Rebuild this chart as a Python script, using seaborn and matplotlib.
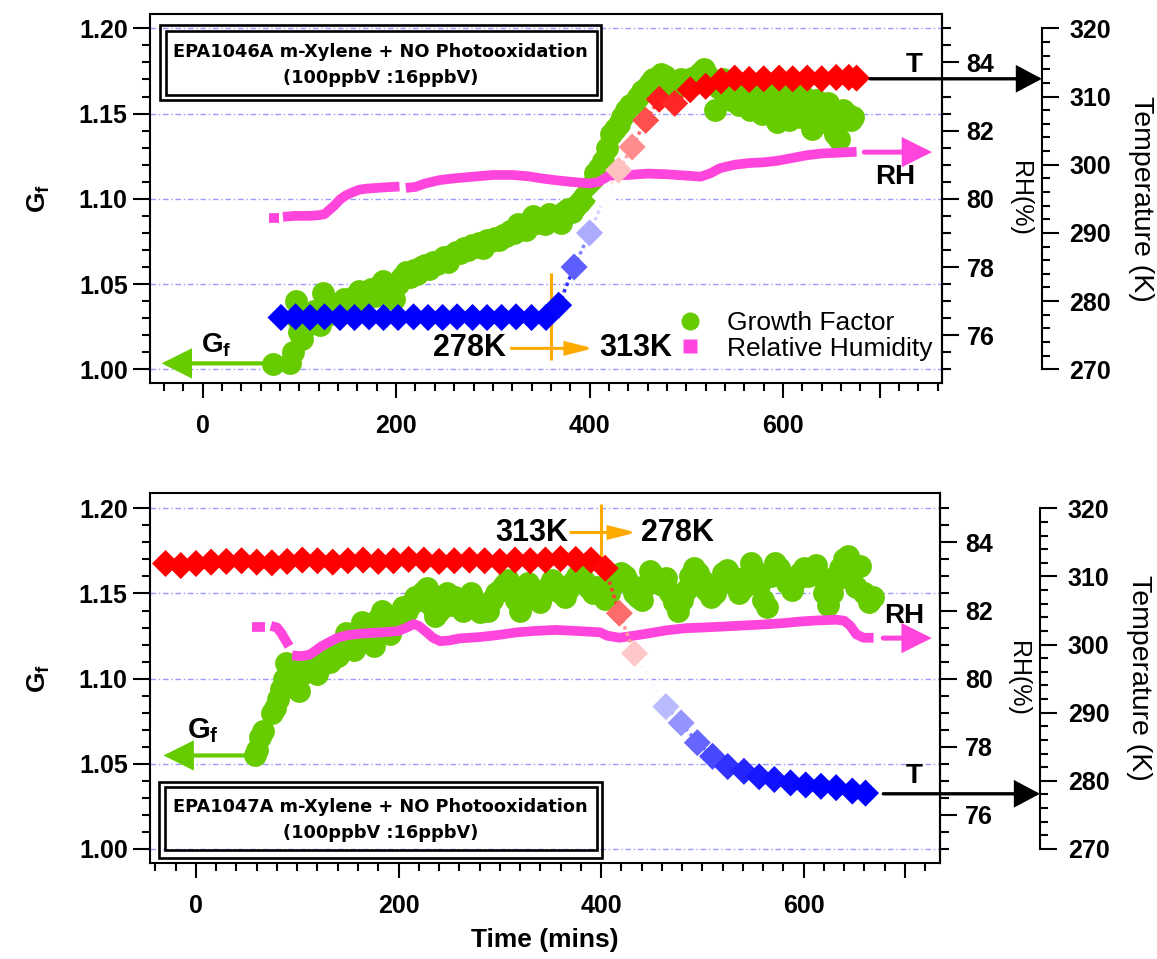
import numpy as np
import pandas as pd
import matplotlib
matplotlib.use("Agg")
import matplotlib.pyplot as plt
import seaborn as sns
from matplotlib.colors import LinearSegmentedColormap, Normalize
from matplotlib.collections import LineCollection
from matplotlib.patches import Rectangle
from matplotlib.lines import Line2D
from matplotlib.ticker import MultipleLocator, FixedLocator, FuncFormatter, FormatStrFormatter

sns.set_theme(style="ticks")
plt.rcParams["font.family"] = ["Liberation Sans", "DejaVu Sans"]
plt.rcParams["font.weight"] = "bold"
plt.rcParams["axes.labelweight"] = "bold"
plt.rcParams["mathtext.fontset"] = "custom"
plt.rcParams["mathtext.rm"] = "Liberation Sans:bold"
plt.rcParams["mathtext.bf"] = "Liberation Sans:bold"
plt.rcParams["mathtext.it"] = "Liberation Sans:bold"
plt.rcParams["axes.linewidth"] = 1.5
plt.rcParams["axes.edgecolor"] = "black"
for key in ("text.color", "axes.labelcolor", "xtick.color", "ytick.color"):
    plt.rcParams[key] = "black"

GREEN = "#66cc00"
PINK = "#ff45dc"
ORANGE = "#ffaa00"
GRID = "#9a9aff"

# ---------------- EPA1046A (heated 278 K -> 313 K) ----------------
gf1_time = [73, 90, 93, 96, 98, 100, 103, 106, 109, 112,
            115, 118, 121, 124, 127, 130, 134, 138, 142, 146,
            150, 154, 158, 162, 166, 170, 174, 178, 182, 186,
            190, 194, 198, 202, 206, 210, 214, 218, 222, 226,
            230, 234, 238, 242, 246, 250, 254, 258, 262, 266,
            270, 274, 278, 282, 286, 290, 294, 298, 302, 306,
            310, 314, 318, 322, 326, 330, 334, 338, 342, 346,
            350, 354, 358, 362, 366, 370, 374, 378, 382, 386,
            390, 394, 398, 402, 406, 410, 414, 418, 422, 426,
            430, 434, 438, 442, 446, 450, 454, 458, 462, 466,
            470, 474, 478, 482, 486, 490, 494, 498, 502, 506,
            510, 514, 518, 522, 526, 530, 534, 538, 542, 546,
            550, 554, 558, 562, 566, 570, 574, 578, 582, 586,
            590, 594, 598, 602, 606, 610, 614, 618, 622, 626,
            630, 634, 638, 642, 646, 650, 654, 658, 662, 666,
            670, 672]
gf1_val = [1.003, 1.004, 1.010, 1.040, 1.030, 1.022, 1.018, 1.025, 1.031, 1.028,
           1.034, 1.030, 1.026, 1.045, 1.035, 1.032, 1.038, 1.036, 1.033, 1.041,
           1.039, 1.036, 1.043, 1.046, 1.041, 1.044, 1.047, 1.043, 1.049, 1.052,
           1.048, 1.045, 1.041, 1.050, 1.054, 1.057, 1.054, 1.058, 1.056, 1.060,
           1.061, 1.059, 1.063, 1.062, 1.064, 1.066, 1.063, 1.067, 1.069, 1.068,
           1.071, 1.070, 1.073, 1.072, 1.074, 1.071, 1.076, 1.075, 1.077, 1.076,
           1.079, 1.078, 1.081, 1.080, 1.085, 1.083, 1.082, 1.087, 1.090, 1.086,
           1.088, 1.085, 1.091, 1.088, 1.090, 1.086, 1.092, 1.094, 1.092, 1.096,
           1.098, 1.101, 1.104, 1.108, 1.115, 1.118, 1.122, 1.130, 1.138, 1.141,
           1.144, 1.148, 1.152, 1.155, 1.156, 1.160, 1.163, 1.165, 1.168, 1.170,
           1.171, 1.173, 1.172, 1.169, 1.166, 1.168, 1.170, 1.167, 1.168, 1.171,
           1.170, 1.174, 1.176, 1.172, 1.168, 1.152, 1.165, 1.170, 1.162, 1.158,
           1.168, 1.155, 1.163, 1.160, 1.152, 1.166, 1.160, 1.150, 1.158, 1.162,
           1.155, 1.145, 1.160, 1.152, 1.146, 1.162, 1.155, 1.148, 1.160, 1.152,
           1.141, 1.158, 1.150, 1.145, 1.156, 1.148, 1.138, 1.135, 1.152, 1.150,
           1.146, 1.148]

rh1_time = [69, 79,
            83, 95, 110, 120, 126, 130, 136, 142, 148, 154, 162, 170, 180, 190, 203.5,
            210, 220, 230, 245, 260, 280, 300, 320, 337, 350, 364, 380, 400, 410, 420,
            440, 460, 480, 500, 515, 525, 535, 550, 565, 580, 595, 610, 625, 640, 655, 676]
rh1_val = [79.45, 79.45,
           79.47, 79.50, 79.50, 79.52, 79.55, 79.65, 79.80, 79.98, 80.10, 80.18, 80.27,
           80.30, 80.32, 80.34, 80.36,
           80.32, 80.35, 80.45, 80.55, 80.60, 80.65, 80.70, 80.70, 80.66, 80.60, 80.55,
           80.50, 80.45, 80.50, 80.68, 80.70, 80.74, 80.72, 80.68, 80.65, 80.75, 80.90,
           81.00, 81.05, 81.07, 81.12, 81.20, 81.28, 81.33, 81.35, 81.38]
rh1_seg = [0] * 2 + [1] * 15 + [2] * 31

temp1_time = [81, 96, 111, 126, 142, 157, 172, 187, 202, 218,
              233, 248, 263, 279, 294, 309, 324, 340, 355, 368,
              384, 400, 416, 430, 444, 458, 472, 488, 504, 520,
              536, 550, 565, 580, 596, 610, 625, 640, 655, 668, 676]
temp1_val = [277.6, 277.7, 277.6, 277.7, 277.6, 277.6, 277.7, 277.6, 277.6, 277.7,
             277.6, 277.6, 277.7, 277.6, 277.6, 277.6, 277.7, 277.6, 277.6, 279.4,
             285.0, 290.0, 295.3, 299.2, 302.6, 306.5, 309.6, 309.0, 311.0, 311.5,
             312.3, 312.7, 312.5, 312.6, 312.7, 312.6, 312.7, 312.6, 312.8, 312.8, 312.7]

# ---------------- EPA1047A (cooled 313 K -> 278 K) ----------------
gf2_time = [58, 60, 63, 66, 75, 78, 81, 84, 87, 89,
            92, 95, 98, 102, 105, 108, 112, 116, 120, 124,
            128, 132, 136, 140, 144, 148, 152, 156, 160, 164,
            168, 172, 176, 180, 184, 188, 192, 196, 200, 204,
            208, 212, 216, 220, 224, 228, 232, 236, 240, 244,
            248, 252, 256, 260, 264, 268, 272, 276, 280, 284,
            288, 292, 296, 300, 304, 308, 312, 316, 320, 324,
            328, 332, 336, 340, 344, 348, 352, 356, 360, 364,
            368, 372, 376, 380, 384, 388, 392, 396, 400, 404,
            408, 412, 416, 420, 424, 428, 432, 436, 440, 444,
            448, 452, 456, 460, 464, 468, 472, 476, 480, 484,
            488, 492, 496, 500, 504, 508, 512, 516, 520, 524,
            528, 532, 536, 540, 544, 548, 552, 556, 560, 564,
            568, 572, 576, 580, 584, 588, 592, 596, 600, 604,
            608, 612, 616, 620, 624, 628, 632, 636, 640, 644,
            648, 652, 656, 660, 664, 668]
gf2_val = [1.055, 1.058, 1.066, 1.069, 1.080, 1.083, 1.088, 1.094, 1.100, 1.109,
           1.104, 1.098, 1.095, 1.093, 1.103, 1.107, 1.110, 1.106, 1.103, 1.108,
           1.112, 1.110, 1.115, 1.113, 1.118, 1.127, 1.122, 1.117, 1.125, 1.133,
           1.128, 1.122, 1.119, 1.135, 1.140, 1.132, 1.126, 1.136, 1.138, 1.142,
           1.140, 1.144, 1.148, 1.146, 1.151, 1.153, 1.143, 1.137, 1.140, 1.146,
           1.150, 1.143, 1.148, 1.144, 1.140, 1.147, 1.150, 1.145, 1.139, 1.143,
           1.140, 1.146, 1.150, 1.152, 1.155, 1.158, 1.150, 1.146, 1.140, 1.150,
           1.156, 1.152, 1.148, 1.145, 1.150, 1.154, 1.158, 1.155, 1.150, 1.148,
           1.153, 1.157, 1.160, 1.161, 1.157, 1.153, 1.150, 1.154, 1.152, 1.147,
           1.150, 1.155, 1.158, 1.162, 1.160, 1.156, 1.150, 1.148, 1.146, 1.155,
           1.163, 1.160, 1.158, 1.155, 1.159, 1.150, 1.145, 1.140, 1.146, 1.152,
           1.160, 1.165, 1.162, 1.158, 1.152, 1.148, 1.150, 1.155, 1.162, 1.164,
           1.160, 1.156, 1.150, 1.153, 1.160, 1.168, 1.163, 1.155, 1.146, 1.142,
           1.160, 1.168, 1.165, 1.160, 1.156, 1.152, 1.158, 1.162, 1.165, 1.160,
           1.163, 1.167, 1.160, 1.150, 1.143, 1.150, 1.158, 1.165, 1.170, 1.172,
           1.162, 1.154, 1.166, 1.150, 1.145, 1.148]

rh2_time = [55, 68,
            74, 80, 84, 88, 92,
            95, 104, 112, 118, 124, 132, 140, 150, 166, 185, 200, 208, 215, 220,
            227, 234, 241, 250, 260, 280, 298, 317, 335, 355, 375, 399, 406, 418,
            430, 445, 465, 483, 500, 521, 540, 560, 580, 598, 615, 632, 640, 646,
            652, 659, 669]
rh2_val = [81.53, 81.53,
           81.55, 81.50, 81.35, 81.15, 80.95,
           80.68, 80.66, 80.70, 80.82, 80.95, 81.08, 81.20, 81.28, 81.33, 81.36, 81.40,
           81.50, 81.60, 81.55, 81.38, 81.20, 81.10, 81.12, 81.18, 81.22, 81.28, 81.36,
           81.40, 81.43, 81.40, 81.36, 81.26, 81.20, 81.25, 81.32, 81.42, 81.48, 81.50,
           81.53, 81.56, 81.59, 81.63, 81.68, 81.71, 81.73, 81.70, 81.55, 81.30, 81.20,
           81.20]
rh2_seg = [0] * 2 + [1] * 5 + [2] * 45

temp2_time = [-30, -15, 0, 15, 30, 45, 60, 75, 90, 105,
              120, 135, 150, 165, 180, 195, 210, 225, 240, 255,
              270, 285, 300, 315, 330, 345, 360, 375, 390, 404,
              418, 433, 464, 479, 495, 510, 525, 541, 556, 571,
              587, 602, 617, 632, 648, 661]
temp2_val = [311.9, 311.6, 311.9, 312.1, 312.2, 312.3, 312.1, 312.0, 312.2, 312.4,
             312.3, 312.1, 312.3, 312.4, 312.2, 312.3, 312.5, 312.4, 312.2, 312.3,
             312.4, 312.3, 312.2, 312.4, 312.3, 312.4, 312.6, 312.5, 312.4, 311.2,
             304.6, 298.7, 290.9, 288.5, 285.6, 283.6, 282.1, 281.4, 280.6, 280.2,
             279.7, 279.4, 279.2, 279.0, 278.5, 278.2]

TITLES = [("EPA1046A m-Xylene + NO Photooxidation", "(100ppbV :16ppbV)"),
          ("EPA1047A m-Xylene + NO Photooxidation", "(100ppbV :16ppbV)")]

temp_cmap = LinearSegmentedColormap.from_list("temp_ramp", ["#0000ff", "#ffffff", "#ff0000"])
temp_norm = Normalize(279.0, 311.5)

TICK_FS = 18


def arrow(axis, start, end, color, lw, hl, hw, xycoords="data"):
    axis.annotate("", xy=end, xytext=start, xycoords=xycoords, textcoords="data",
                  arrowprops=dict(arrowstyle=f"-|>,head_length={hl},head_width={hw}",
                                  color=color, lw=lw, shrinkA=0, shrinkB=0,
                                  mutation_scale=10, joinstyle="miter"),
                  annotation_clip=False, zorder=6)


def build_panel(ax, gf_lim, x_lim, gf_t, gf_v, rh_t, rh_v, rh_s, tk_t, tk_v, title,
                box, tk_spine=1.1265):
    rh_lim = tuple(75 + (g - 1) * 50 for g in gf_lim)
    tk_lim = tuple(270 + (g - 1) * 250 for g in gf_lim)

    ax_rh = ax.twinx()
    ax_tk = ax.twinx()
    ax.set_xlim(*x_lim)
    ax.set_ylim(*gf_lim)
    ax_rh.set_ylim(*rh_lim)
    ax_tk.set_ylim(*tk_lim)

    # growth factor
    sns.scatterplot(x=gf_t, y=gf_v, color=GREEN, s=270, linewidth=0, ax=ax, zorder=3)

    # relative humidity (continuous bands with data gaps)
    rh_df = pd.DataFrame({"t": rh_t, "rh": rh_v, "seg": rh_s})
    sns.lineplot(data=rh_df, x="t", y="rh", units="seg", estimator=None, sort=False,
                 color=PINK, lw=7, ax=ax_rh, zorder=3)
    for ln in ax_rh.lines:
        ln.set_solid_capstyle("butt")

    # chamber temperature, coloured by value, joined by dotted trace
    tk_df = pd.DataFrame({"t": tk_t, "T": tk_v})
    pts = np.column_stack([tk_df["t"], tk_df["T"]])
    segs = np.stack([pts[:-1], pts[1:]], axis=1)
    mids = 0.5 * (tk_df["T"].values[:-1] + tk_df["T"].values[1:])
    lc = LineCollection(segs, colors=temp_cmap(temp_norm(mids)), linewidths=2.5,
                        linestyles=(0, (1, 1)), zorder=2)
    ax_tk.add_collection(lc)
    sns.scatterplot(data=tk_df, x="t", y="T", hue="T", palette=temp_cmap, hue_norm=temp_norm,
                    marker="D", s=190, linewidth=0, legend=False, ax=ax_tk, zorder=4)

    # axes cosmetics
    for a in (ax, ax_rh, ax_tk):
        a.set_xlabel("")
        a.set_ylabel("")
    ax.grid(axis="y", color=GRID, linestyle=(0, (4, 2, 1, 2)), lw=1.0)
    ax.grid(axis="x", visible=False)

    ax.yaxis.set_major_locator(MultipleLocator(0.05))
    ax.yaxis.set_minor_locator(MultipleLocator(0.01))
    ax.yaxis.set_major_formatter(FormatStrFormatter("%.2f"))
    ax.xaxis.set_major_locator(FixedLocator([0, 200, 400, 600, 700]))
    ax.xaxis.set_minor_locator(MultipleLocator(20))
    ax.xaxis.set_major_formatter(FuncFormatter(lambda v, p: "" if abs(v - 700) < 1 else f"{v:.0f}"))
    ax.tick_params(axis="y", which="major", direction="out", length=12, width=1.5,
                   labelsize=TICK_FS, pad=4, left=True, right=False)
    ax.tick_params(axis="y", which="minor", direction="out", length=6, width=1.5, left=True)
    ax.tick_params(axis="x", which="major", direction="out", length=11, width=1.5,
                   labelsize=TICK_FS, pad=11, bottom=True)
    ax.tick_params(axis="x", which="minor", direction="out", length=6, width=1.5, bottom=True)

    ax_rh.yaxis.set_major_locator(FixedLocator([76, 78, 80, 82, 84]))
    ax_rh.yaxis.set_minor_locator(FixedLocator(np.arange(75, 85.01, 0.5)))
    ax_rh.tick_params(axis="y", which="major", direction="out", length=12, width=1.5,
                      labelsize=TICK_FS, pad=6, right=True)
    ax_rh.tick_params(axis="y", which="minor", direction="out", length=6.5, width=1.5, right=True)
    for s in ("left", "top", "bottom"):
        ax_rh.spines[s].set_visible(False)

    for s in ("left", "top", "bottom"):
        ax_tk.spines[s].set_visible(False)
    ax_tk.spines["right"].set_position(("axes", tk_spine))
    ax_tk.spines["right"].set_bounds(270, 320)
    ax_tk.yaxis.set_major_locator(FixedLocator(np.arange(270, 321, 10)))
    ax_tk.yaxis.set_minor_locator(FixedLocator(np.arange(270, 321, 2)))
    ax_tk.tick_params(axis="y", which="major", direction="out", length=12, width=1.5,
                      labelsize=TICK_FS, pad=8, right=True)
    ax_tk.tick_params(axis="y", which="minor", direction="out", length=6, width=1.5, right=True)

    ax.set_ylabel(r"$\mathbf{G_f}$", fontsize=19)
    ax.yaxis.set_label_coords(-0.14, 0.5)
    ax_rh.set_ylabel("RH(%)", fontsize=18, fontweight="normal", rotation=-90)
    ax_rh.yaxis.set_label_coords(1.099, 0.5)
    ax_tk.set_ylabel("Temperature (K)", fontsize=20.5, fontweight="normal", rotation=-90)
    ax_tk.yaxis.set_label_coords(1.252, 0.5)
    for lab in (ax.yaxis.label, ax_rh.yaxis.label, ax_tk.yaxis.label):
        lab.set_va("center")
        lab.set_ha("center")

    # double-framed experiment caption
    (ox0, oy0, ox1, oy1), (ix0, iy0, ix1, iy1), ty1, ty2 = box
    for (x0, y0, x1, y1) in ((ox0, oy0, ox1, oy1), (ix0, iy0, ix1, iy1)):
        ax.add_patch(Rectangle((x0, y0), x1 - x0, y1 - y0, transform=ax.transAxes,
                               fill=False, lw=1.9, edgecolor="black", zorder=7, clip_on=False))
    cx = 0.5 * (ox0 + ox1)
    ax.text(cx, ty1, title[0], transform=ax.transAxes, ha="center", va="center",
            fontsize=12.8, family="DejaVu Sans", fontweight="bold", zorder=8)
    ax.text(cx, ty2, title[1], transform=ax.transAxes, ha="center", va="center",
            fontsize=12.8, family="DejaVu Sans", fontweight="bold", zorder=8)
    return ax_rh, ax_tk


fig = plt.figure(figsize=(11.57, 9.59), dpi=100)
ax1 = fig.add_axes([0.1296, 0.6003, 0.6843, 0.3851])
ax2 = fig.add_axes([0.1296, 0.0998, 0.6828, 0.3858])

box1 = ((0.013, 0.7658, 0.5703, 0.9694), (0.0202, 0.782, 0.5646, 0.954), 0.898, 0.826)
box2 = ((0.0114, 0.0135, 0.5722, 0.2205), (0.0196, 0.036, 0.5665, 0.207), 0.1514, 0.0811)

ax1_rh, ax1_tk = build_panel(ax1, (0.9918, 1.2084), (-54.5, 764), gf1_time, gf1_val,
                             rh1_time, rh1_val, rh1_seg, temp1_time, temp1_val, TITLES[0], box1)
ax2_rh, ax2_tk = build_panel(ax2, (0.9916, 1.2088), (-45.4, 734.5), gf2_time, gf2_val,
                             rh2_time, rh2_val, rh2_seg, temp2_time, temp2_val, TITLES[1], box2)

LABEL_FS = 22

# ---- annotations: upper experiment ----
ax1_tk.text(13.7, 270 + 0.0143 * 250, r"$\mathbf{G_f}$", fontsize=20, ha="center", va="center")
arrow(ax1, (62.3, 1.0035), (-42.4, 1.0035), GREEN, 3.0, 1.7, 0.85)
ax1.text(314, 1.0123, "278K", fontsize=LABEL_FS, ha="right", va="center", zorder=6)
ax1.text(410, 1.0123, "313K", fontsize=LABEL_FS, ha="left", va="center", zorder=6)
arrow(ax1, (319, 1.0123), (404, 1.0123), ORANGE, 2.2, 1.6, 0.4)
ax1.vlines(360, 1.0055, 1.0563, color=ORANGE, lw=2.2, zorder=6)
ax1.text(716, 1.1129, "RH", fontsize=20, ha="center", va="center")
arrow(ax1_rh, (684, 81.37), (754, 81.37), PINK, 3.6, 1.6, 0.8)
ax1.text(736, 1.1785, "T", fontsize=20, ha="center", va="center")
arrow(ax1_tk, (690, 312.6), (1.1265, 312.6), "black", 2.4, 1.5, 0.8,
      xycoords=("axes fraction", "data"))

handles = [Line2D([], [], ls="none", marker="o", ms=13, color=GREEN, mec="none"),
           Line2D([], [], ls="none", marker="s", ms=10, color=PINK, mec="none")]
leg = ax1_tk.legend(handles, ["Growth Factor", "Relative Humidity"], loc="center left",
                    bbox_to_anchor=(0.6657, 0.128), frameon=False, borderpad=0,
                    borderaxespad=0, handlelength=1.0, handletextpad=0.9, labelspacing=0.05,
                    prop={"size": 19, "weight": "normal"})

# ---- annotations: lower experiment ----
ax2.text(6.4, 1.0696, r"$\mathbf{G_f}$", fontsize=21, ha="center", va="center")
arrow(ax2, (49, 1.0549), (-32, 1.0549), GREEN, 3.0, 1.7, 0.85)
ax2.text(368, 1.1853, "313K", fontsize=LABEL_FS, ha="right", va="center", zorder=6)
ax2.text(439, 1.1853, "278K", fontsize=LABEL_FS, ha="left", va="center", zorder=6)
arrow(ax2, (370, 1.1858), (435, 1.1858), ORANGE, 2.2, 1.6, 0.4)
ax2.vlines(400, 1.1668, 1.2025, color=ORANGE, lw=2.2, zorder=6)
ax2.text(699.6, 1.1365, "RH", fontsize=20, ha="center", va="center")
arrow(ax2_rh, (678.5, 81.19), (726.4, 81.19), PINK, 3.6, 1.6, 0.8)
ax2.text(709, 1.0426, "T", fontsize=20, ha="center", va="center")
arrow(ax2_tk, (678.5, 278.1), (1.1265, 278.1), "black", 2.4, 1.5, 0.8,
      xycoords=("axes fraction", "data"))

ax2.set_xlabel("Time (mins)", fontsize=19, fontweight="bold")
ax2.xaxis.set_label_coords(0.5, -0.207)
ax2.xaxis.label.set_va("center")

fig.savefig("out.png", dpi=100, facecolor="white")
